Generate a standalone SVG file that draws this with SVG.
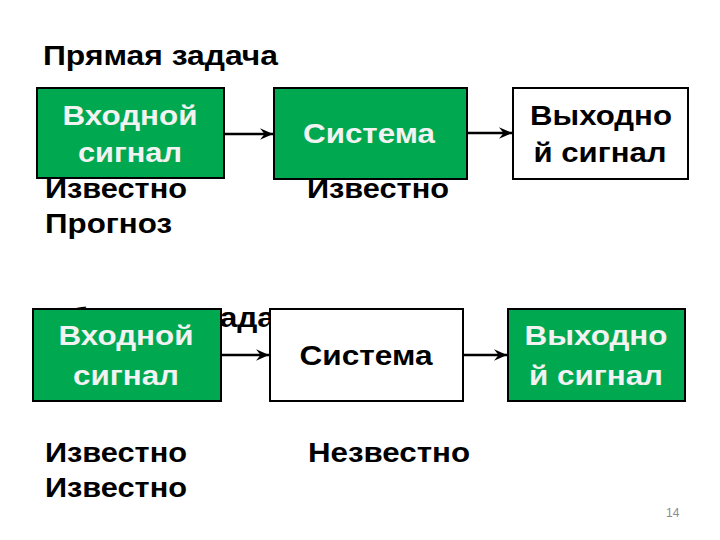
<svg xmlns="http://www.w3.org/2000/svg" width="720" height="540" viewBox="0 0 720 540">
<defs>
<style>
.t{font-family:"Liberation Sans",Arial,sans-serif;font-weight:bold;font-size:27px;fill:#000}
.w{fill:#f2f2f2}
.c{text-anchor:middle}
.g{fill:#00a84f;stroke:#000;stroke-width:2}
.b{fill:#fff;stroke:#000;stroke-width:2}
.e{stroke:#000;stroke-width:2.5;fill:none;marker-end:url(#ah)}
.pn{font-family:"Liberation Sans",Arial,sans-serif;font-size:12px;fill:#8c8c8c}
</style>
<marker id="ah" viewBox="0 0 10 10" refX="10" refY="5" markerWidth="13" markerHeight="13" markerUnits="userSpaceOnUse" orient="auto">
<path d="M0,0.5 L10,5 L0,9.5 L3.5,5 Z" fill="#000"/>
</marker>
</defs>
<rect width="720" height="540" fill="#fff"/>
<g id="labels">
<text class="t" x="43" y="65" textLength="235" lengthAdjust="spacingAndGlyphs">Прямая задача</text>
<text class="t" x="45" y="198" textLength="142" lengthAdjust="spacingAndGlyphs">Известно</text>
<text class="t" x="307" y="198" textLength="142" lengthAdjust="spacingAndGlyphs">Известно</text>
<text class="t" x="45" y="233" textLength="127" lengthAdjust="spacingAndGlyphs">Прогноз</text>
<text class="t" x="44" y="327" textLength="266" lengthAdjust="spacingAndGlyphs">Обратная задача</text>
<text class="t" x="45" y="462" textLength="142" lengthAdjust="spacingAndGlyphs">Известно</text>
<text class="t" x="308" y="462" textLength="162" lengthAdjust="spacingAndGlyphs">Незвестно</text>
<text class="t" x="45" y="497" textLength="142" lengthAdjust="spacingAndGlyphs">Известно</text>
<text class="pn" x="666" y="517">14</text>
</g>
<g id="connectors">
<line class="e" x1="224" y1="134" x2="273" y2="134"/>
<line class="e" x1="467" y1="133" x2="512" y2="133"/>
<line class="e" x1="221" y1="355" x2="269" y2="355"/>
<line class="e" x1="463" y1="355" x2="507" y2="355"/>
</g>
<g id="in1"><rect class="g" x="37" y="88" width="187" height="90"/><text class="t w c" x="130" y="125" textLength="135" lengthAdjust="spacingAndGlyphs">Входной</text><text class="t w c" x="130" y="162" textLength="104" lengthAdjust="spacingAndGlyphs">сигнал</text></g>
<g id="sys1"><rect class="g" x="274" y="88" width="193" height="91"/><text class="t w c" x="369" y="143" textLength="132" lengthAdjust="spacingAndGlyphs">Система</text></g>
<g id="out1"><rect class="b" x="513" y="88" width="175" height="91"/><text class="t c" x="601" y="125" textLength="142" lengthAdjust="spacingAndGlyphs">Выходно</text><text class="t c" x="600" y="162" textLength="133" lengthAdjust="spacingAndGlyphs">й сигнал</text></g>
<g id="in2"><rect class="g" x="33" y="309" width="188" height="92"/><text class="t w c" x="126" y="345" textLength="135" lengthAdjust="spacingAndGlyphs">Входной</text><text class="t w c" x="126" y="385" textLength="106" lengthAdjust="spacingAndGlyphs">сигнал</text></g>
<g id="sys2"><rect class="b" x="270" y="309" width="193" height="92"/><text class="t c" x="366" y="365" textLength="133" lengthAdjust="spacingAndGlyphs">Система</text></g>
<g id="out2"><rect class="g" x="508" y="309" width="177" height="92"/><text class="t w c" x="596" y="345" textLength="143" lengthAdjust="spacingAndGlyphs">Выходно</text><text class="t w c" x="596" y="385" textLength="134" lengthAdjust="spacingAndGlyphs">й сигнал</text></g>
</svg>
